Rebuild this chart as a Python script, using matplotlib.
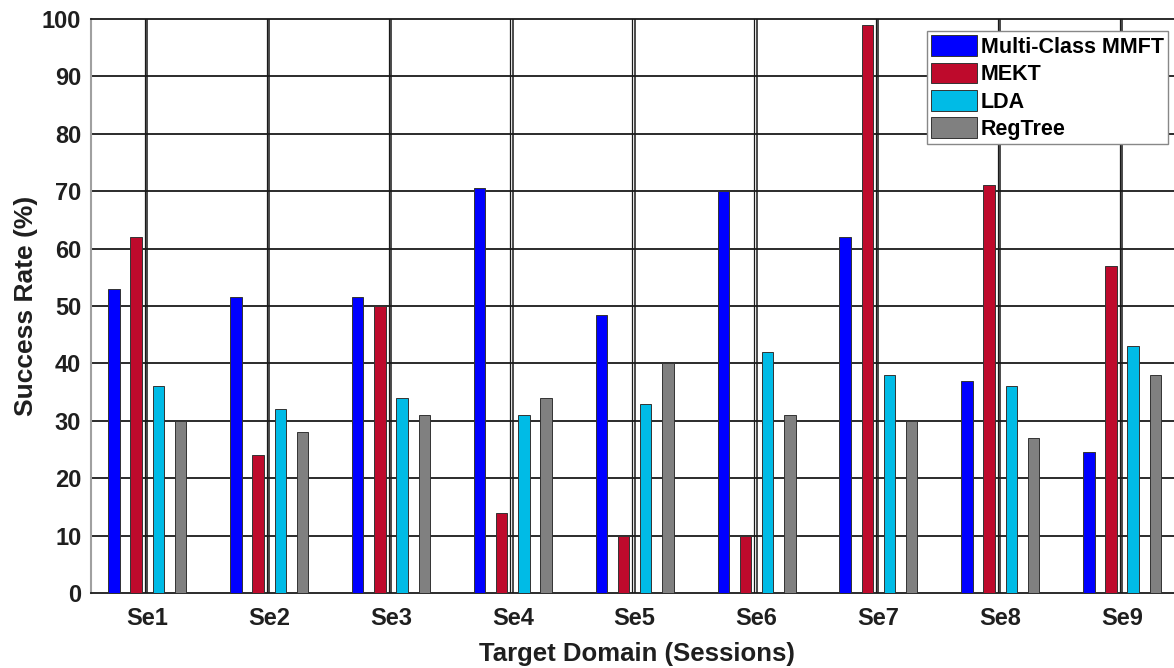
import numpy as np
import matplotlib.pyplot as plt

plt.rcParams['font.family'] = ['Liberation Sans', 'DejaVu Sans']
plt.rcParams['font.weight'] = 'bold'

sessions = ["Se1", "Se2", "Se3", "Se4", "Se5", "Se6", "Se7", "Se8", "Se9"]
methods = ["Multi-Class MMFT", "MEKT", "LDA", "RegTree"]

mmft = [53, 51.5, 51.5, 70.5, 48.5, 70, 62, 37, 24.5]
mekt = [62, 24, 50, 14, 10, 10, 99, 71, 57]
lda = [36, 32, 34, 31, 33, 42, 38, 36, 43]
regtree = [30, 28, 31, 34, 40, 31, 30, 27, 38]

colors = ["#0000FF", "#BE0A2C", "#00BBE6", "#808080"]
text_col = "#1f1f1f"

fig = plt.figure(figsize=(11.74, 6.68), dpi=100)
# axes runs a little past the right edge of the figure
ax = fig.add_axes([91 / 1174, 75 / 668, 1092 / 1174, 574 / 668])

x = np.arange(1, len(sessions) + 1)
step = 0.182
width = 0.094
series = [mmft, mekt, lda, regtree]
for k, (vals, col, name) in enumerate(zip(series, colors, methods)):
    offs = (k - 1.5) * step
    ax.bar(x + offs, vals, width, color=col, edgecolor="#333333",
           linewidth=0.7, label=name, zorder=3)

# grid drawn by hand (vertical lines come out doubled)
for yv in range(10, 100, 10):
    ax.axhline(yv, color="#1a1a1a", lw=1.3, zorder=1)
for xv in x:
    ax.axvline(xv, color="#1a1a1a", lw=1.1, zorder=1)
    ax.axvline(xv - 0.02, color="#1a1a1a", lw=0.9, zorder=1)

ax.set_xlim(0.538, 9.5)
ax.set_ylim(0, 100)
ax.set_xticks(x)
ax.set_xticklabels(sessions)
ax.set_yticks(range(0, 101, 10))
ax.tick_params(axis="both", length=0, labelsize=17, colors=text_col)
ax.tick_params(axis="y", pad=7)
ax.tick_params(axis="x", pad=10)
for lab in ax.get_xticklabels() + ax.get_yticklabels():
    lab.set_fontweight("bold")

ax.spines["left"].set_color("#a0a0a0")
ax.spines["left"].set_linewidth(1.5)
ax.spines["bottom"].set_color("#1a1a1a")
ax.spines["bottom"].set_linewidth(1.3)
ax.spines["top"].set_color("#1a1a1a")
ax.spines["top"].set_linewidth(1.3)
ax.spines["right"].set_visible(False)

ax.set_xlabel("Target Domain (Sessions)", fontsize=18.5, fontweight="bold",
              color=text_col, labelpad=9)
ax.set_ylabel("Success Rate (%)", fontsize=19, fontweight="bold",
              color=text_col, labelpad=3)

leg = fig.legend(loc="upper right", bbox_to_anchor=(1168 / 1174, 1 - 31 / 668),
                 fontsize=15.5, frameon=True, fancybox=False, handlelength=2.15,
                 handleheight=1.1, handletextpad=0.15, labelspacing=0.22,
                 borderpad=0.2, borderaxespad=0)
leg.get_frame().set_edgecolor("#888888")
leg.get_frame().set_linewidth(1.0)
leg.get_frame().set_alpha(1)
for t in leg.get_texts():
    t.set_fontweight("bold")
    t.set_color("black")

fig.savefig("out.png", dpi=100)
